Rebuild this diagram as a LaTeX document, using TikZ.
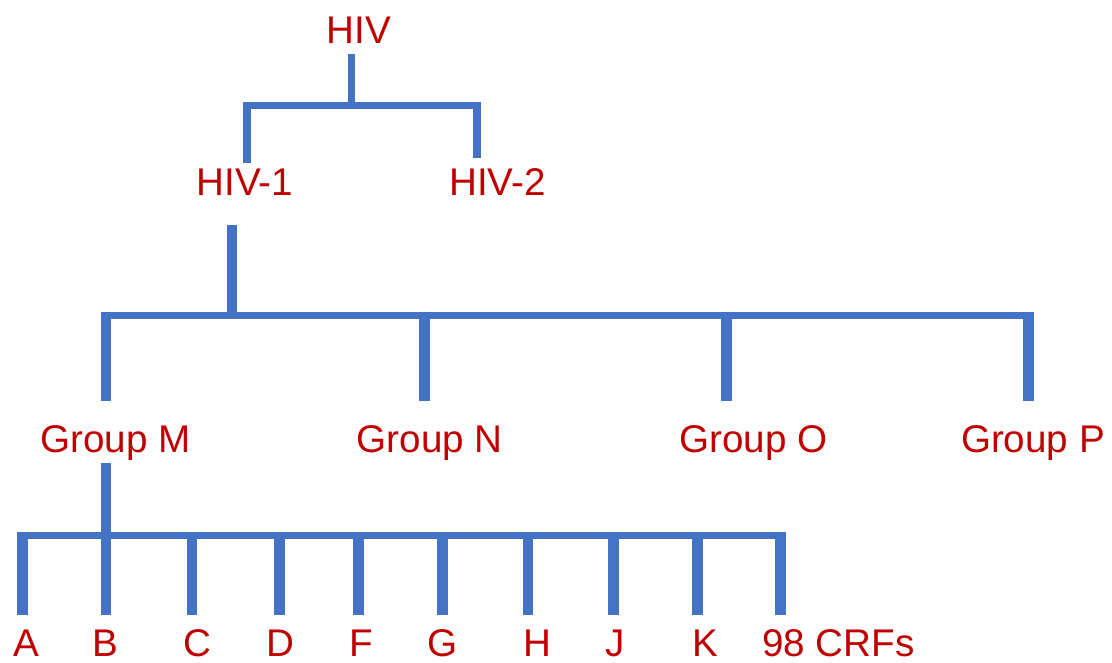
\documentclass[tikz,border=0pt]{standalone}
\usepackage{fontspec}
\setmainfont{Liberation Sans}
\definecolor{treeblue}{HTML}{4472C4}
\definecolor{labelred}{HTML}{C00000}
\begin{document}
\begin{tikzpicture}[x=0.75pt,y=-0.75pt,
  lbl/.style={text=labelred, font=\fontsize{28.95pt}{34pt}\selectfont, inner sep=0pt, anchor=base},
  hbar/.style={draw=treeblue, line width=5.25pt, line cap=butt},
  vbar/.style={draw=treeblue, line width=8pt, line cap=butt},
  vthin/.style={draw=treeblue, line width=6pt, line cap=butt},
  vstem/.style={draw=treeblue, line width=5.25pt, line cap=butt}]
\useasboundingbox (0,0) rectangle (1112,662);

% ---- labels ----
\node[lbl] (HIV)  at (358.7,43.3) {HIV};
\node[lbl] (HIV1) at (245,195)    {HIV-1};
\node[lbl] (HIV2) at (497.5,195)  {HIV-2};
\node[lbl] (GM) at (115.3,452.5) {Group M};
\node[lbl] (GN) at (429.6,452.5) {Group N};
\node[lbl] (GO) at (753.3,452.5) {Group O};
\node[lbl] (GP) at (1032.9,452.5) {Group P};
\foreach \n/\x/\t in {A/26.3/A, B/105/B, C/197/C, D/280.5/D, F/361.3/F,
  G/442.2/G, H/537/H, J/615.3/J, K/705.3/K, CRF/838.3/98 CRFs}
  \node[lbl] (\n) at (\x,656.7) {\t};

% ---- junction coordinates ----
% level 1
\coordinate (s0top) at (351.5,54);
\coordinate (s0bot) at (351.5,105);
\coordinate (b0l) at (243,105);
\coordinate (b0r) at (480.7,105);
\coordinate (l1top) at (247.2,101.7);
\coordinate (l1bot) at (247.2,162.7);
\coordinate (l2top) at (476.7,101.7);
\coordinate (l2bot) at (476.7,158.3);
% level 2
\coordinate (s1top) at (232,225);
\coordinate (s1bot) at (232,315.8);
\coordinate (b1l) at (100.7,315.8);
\coordinate (b1r) at (1034,315.8);
\foreach \n/\x in {M/106, N/424.5, O/726.2, P/1028.3}{
  \coordinate (g\n top) at (\x,312.3);
  \coordinate (g\n bot) at (\x,400.5);
}
% level 3
\coordinate (s2top) at (106,463.3);
\coordinate (s2bot) at (106,535.8);
\coordinate (b2l) at (17.3,535.8);
\coordinate (b2r) at (786,535.8);
\foreach \n/\x in {A/22.8, B/106, C/192, D/279.5, F/358.8, G/442.8,
  H/528, J/613.7, K/697.5, CRF/780.8}{
  \coordinate (\n top) at (\x,532.3);
  \coordinate (\n bot) at (\x,615);
}

% ---- connectors ----
\draw[vstem] (s0top) -- (s0bot);
\draw[hbar] (b0l) -- (b0r);
\draw[vthin] (l1top) -- (l1bot);
\draw[vthin] (l2top) -- (l2bot);

\draw[vbar] (s1top) -- (s1bot);
\draw[hbar] (b1l) -- (b1r);
\foreach \n in {M,N,O,P}
  \draw[vbar] (g\n top) -- (g\n bot);

\draw[vbar] (s2top) -- (s2bot);
\draw[hbar] (b2l) -- (b2r);
\foreach \n in {A,B,C,D,F,G,H,J,K,CRF}
  \draw[vbar] (\n top) -- (\n bot);
\end{tikzpicture}
\end{document}
